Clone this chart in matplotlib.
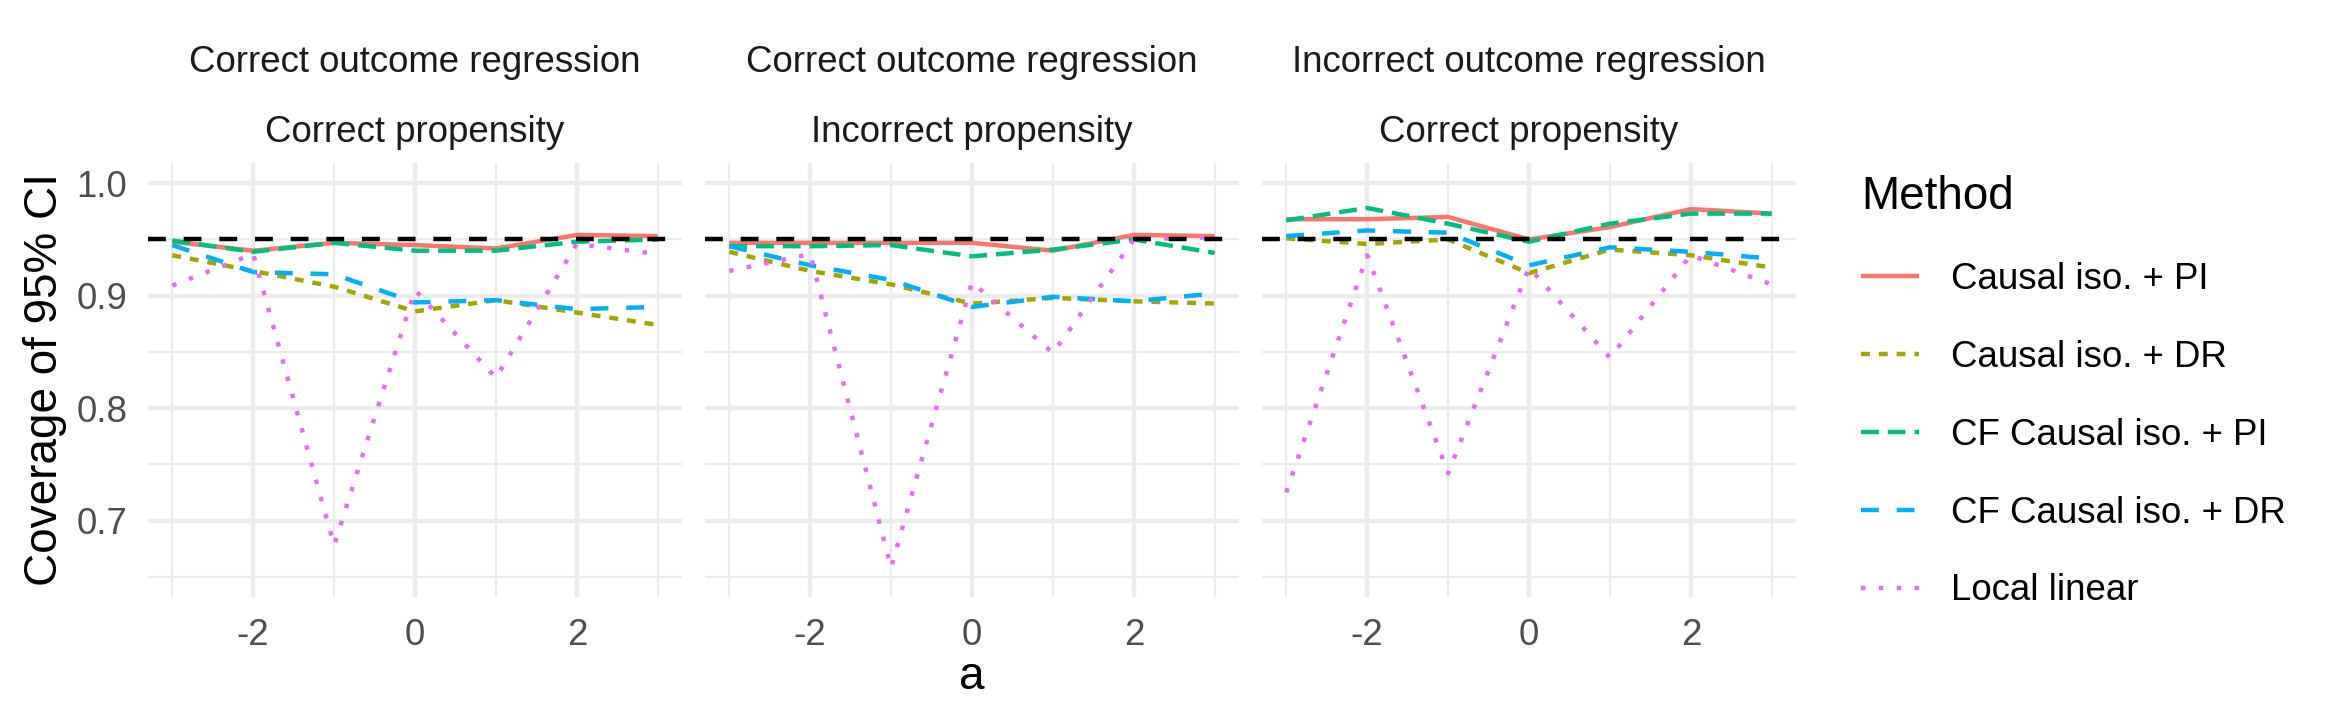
import numpy as np
import matplotlib.pyplot as plt
from matplotlib.lines import Line2D

plt.rcParams['font.family'] = ['Liberation Sans', 'DejaVu Sans']

# data
a = [-3, -2, -1, 0, 1, 2, 3]
methods = ["Causal iso. + PI", "Causal iso. + DR", "CF Causal iso. + PI",
           "CF Causal iso. + DR", "Local linear"]
outcome_labels = ["Correct outcome regression", "Correct outcome regression",
                  "Incorrect outcome regression"]
propensity_labels = ["Correct propensity", "Incorrect propensity", "Correct propensity"]

# panel 1: correct outcome / correct propensity
p1_pi = [0.948, 0.940, 0.947, 0.945, 0.942, 0.954, 0.953]
p1_dr = [0.936, 0.922, 0.908, 0.886, 0.896, 0.885, 0.874]
p1_cfpi = [0.949, 0.939, 0.947, 0.940, 0.940, 0.948, 0.950]
p1_cfdr = [0.945, 0.921, 0.919, 0.894, 0.896, 0.888, 0.890]
p1_ll = [0.909, 0.937, 0.678, 0.905, 0.827, 0.946, 0.937]

# panel 2: correct outcome / incorrect propensity
p2_pi = [0.947, 0.947, 0.947, 0.947, 0.940, 0.954, 0.953]
p2_dr = [0.939, 0.922, 0.910, 0.893, 0.898, 0.895, 0.893]
p2_cfpi = [0.944, 0.944, 0.945, 0.935, 0.941, 0.950, 0.938]
p2_cfdr = [0.944, 0.927, 0.914, 0.890, 0.899, 0.895, 0.902]
p2_ll = [0.922, 0.937, 0.658, 0.912, 0.849, 0.950, 0.952]

# panel 3: incorrect outcome / correct propensity
p3_pi = [0.968, 0.968, 0.970, 0.950, 0.961, 0.977, 0.973]
p3_dr = [0.951, 0.946, 0.950, 0.920, 0.941, 0.936, 0.925]
p3_cfpi = [0.967, 0.978, 0.964, 0.948, 0.964, 0.973, 0.973]
p3_cfdr = [0.953, 0.958, 0.956, 0.927, 0.943, 0.939, 0.933]
p3_ll = [0.725, 0.936, 0.742, 0.925, 0.845, 0.936, 0.910]

panels = [[p1_pi, p1_dr, p1_cfpi, p1_cfdr, p1_ll],
          [p2_pi, p2_dr, p2_cfpi, p2_cfdr, p2_ll],
          [p3_pi, p3_dr, p3_cfpi, p3_cfdr, p3_ll]]

colors = ["#F8766D", "#A3A500", "#00BF7D", "#00B0F6", "#E76BF3"]
styles = ["-", (0, (2, 2)), (0, (4, 2)), (0, (4, 4)), (0, (1, 3))]
lw = 1.07

W, H = 2340, 720
fig = plt.figure(figsize=(W / 300, H / 300), dpi=300)

lefts = [148, 705, 1262]
pw = 534
top, bottom = 163, 597

for k in range(3):
    ax = fig.add_axes([lefts[k] / W, 1 - bottom / H, pw / W, (bottom - top) / H])
    ax.set_xlim(-3.3, 3.3)
    ax.set_ylim(0.632, 1.018)
    for s in ax.spines.values():
        s.set_visible(False)
    ax.set_xticks([-2, 0, 2])
    ax.set_xticks([-3, -1, 1, 3], minor=True)
    ax.set_yticks([0.7, 0.8, 0.9, 1.0])
    ax.set_yticks([0.65, 0.75, 0.85, 0.95], minor=True)
    ax.grid(which='major', color='#EBEBEB', linewidth=1.07)
    ax.grid(which='minor', color='#EBEBEB', linewidth=0.53)
    ax.set_axisbelow(True)
    ax.tick_params(which='both', length=0, pad=4.95, labelsize=8.8, labelcolor='#4D4D4D')
    ax.set_xticklabels(['-2', '0', '2'])
    if k == 0:
        ax.set_yticklabels(['0.7', '0.8', '0.9', '1.0'])
    else:
        ax.set_yticklabels([])

    for vals, c, ls in zip(panels[k], colors, styles):
        ax.plot(a, vals, color=c, linestyle=ls, linewidth=lw,
                solid_capstyle='butt', dash_capstyle='butt')
    ax.axhline(0.95, color='black', linestyle=(0, (4, 4)), linewidth=lw,
               dash_capstyle='butt')

    cx = (lefts[k] + pw / 2) / W
    fig.text(cx, 1 - 63 / H, outcome_labels[k], ha='center', va='center',
             fontsize=8.8, color='#1A1A1A')
    fig.text(cx, 1 - 132 / H, propensity_labels[k], ha='center', va='center',
             fontsize=8.8, color='#1A1A1A')

fig.text(45 / W, 1 - 380 / H, "Coverage of 95% CI", rotation=90,
         ha='center', va='center', fontsize=11)
fig.text(972 / W, 1 - 677 / H, "a", ha='center', va='center', fontsize=11)

handles = [Line2D([], [], color=c, linestyle=ls, linewidth=lw,
                  dash_capstyle='butt', solid_capstyle='butt')
           for c, ls in zip(colors, styles)]
leg = fig.legend(handles, methods, loc='upper left',
                 bbox_to_anchor=(1828 / W, 1 - 142 / H), frameon=False,
                 title="Method", fontsize=8.8, title_fontsize=11,
                 handlelength=1.58, handletextpad=0.87, labelspacing=1.17,
                 alignment='left')

fig.savefig("out.png", dpi=300)
